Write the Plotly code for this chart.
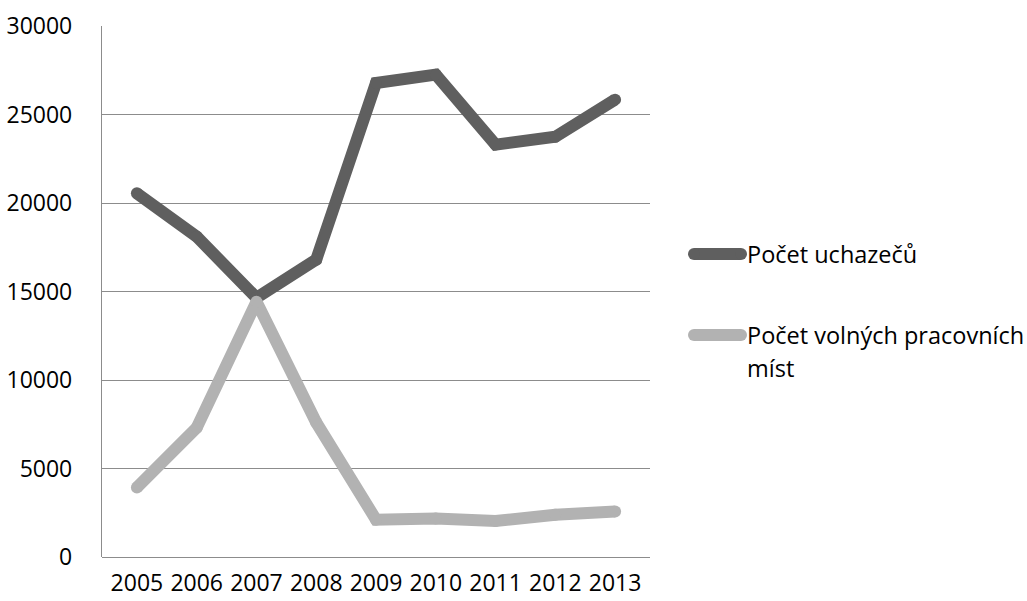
import plotly.graph_objects as go

# Years on the category axis
years = ["2005", "2006", "2007", "2008", "2009", "2010", "2011", "2012", "2013"]

# Number of job seekers
uchazeci = [20550, 18100, 14650, 16800, 26780, 27250, 23300, 23740, 25840]

# Number of vacancies
volna_mista = [3930, 7300, 14420, 7600, 2110, 2180, 2030, 2390, 2570]

series_names = ["Počet uchazečů", "Počet volných pracovních míst"]
legend_lines = [["Počet uchazečů"], ["Počet volných pracovních", "míst"]]

y_ticks = [0, 5000, 10000, 15000, 20000, 25000, 30000]

DARK = "#5f5f5f"
LIGHT = "#b2b2b2"
GRID = "#8c8c8c"
FONT = "Open Sans"
FS_TICK = 23
FS_LEG = 23.5
LW = 12

fig = go.Figure()
for name, vals, col in [(series_names[0], uchazeci, DARK),
                        (series_names[1], volna_mista, LIGHT)]:
    fig.add_trace(go.Scatter(
        x=years, y=vals, name=name, mode="lines+markers",
        line=dict(color=col, width=LW),
        marker=dict(color=col, size=LW, line=dict(width=0)),
        showlegend=False, hoverinfo="skip",
    ))

# Hand-built legend on the right: thick rounded sample line + label
L = 102
W = 548
T = 26
H = 531


def px_x(px):
    return (px - L) / W


def px_y(py):
    return (T + H - py) / H


shapes = []
annotations = []
entries = [(DARK, 254, legend_lines[0]), (LIGHT, 335, legend_lines[1])]
x0, x1 = px_x(694), px_x(741)
for col, ypix, lines in entries:
    yy = px_y(ypix)
    shapes.append(dict(type="line", xref="paper", yref="paper",
                       x0=x0, x1=x1, y0=yy, y1=yy,
                       line=dict(color=col, width=LW)))
    for xc in (x0, x1):
        shapes.append(dict(type="circle", xref="paper", yref="paper",
                           xsizemode="pixel", ysizemode="pixel",
                           xanchor=xc, yanchor=yy,
                           x0=-LW / 2, x1=LW / 2, y0=-LW / 2, y1=LW / 2,
                           fillcolor=col, line=dict(width=0)))
    for i, txt in enumerate(lines):
        annotations.append(dict(
            text=txt, xref="paper", yref="paper",
            x=px_x(745), y=px_y(ypix + 33 * i),
            xanchor="left", yanchor="middle", showarrow=False,
            font=dict(family=FONT, size=FS_LEG, color="#000000"),
        ))

fig.update_layout(
    width=1027, height=601,
    margin=dict(l=L, r=1027 - L - W, t=T, b=601 - T - H),
    paper_bgcolor="white", plot_bgcolor="white",
    font=dict(family=FONT, size=FS_TICK, color="#000000"),
    shapes=shapes, annotations=annotations,
    showlegend=False,
)
fig.update_xaxes(
    type="category", showgrid=False, zeroline=False, automargin=False,
    showline=False, ticks="", ticklabelstandoff=10,
    tickfont=dict(family=FONT, size=FS_TICK, color="#000000"),
)
fig.update_yaxes(
    range=[0, 30000], tickvals=y_ticks, ticktext=[str(v) for v in y_ticks],
    automargin=False,
    showgrid=True, gridcolor=GRID, gridwidth=1.3,
    zeroline=True, zerolinecolor=GRID, zerolinewidth=1.3,
    showline=True, linecolor=GRID, linewidth=1.3,
    ticks="", ticklabelstandoff=24,
    tickfont=dict(family=FONT, size=FS_TICK, color="#000000"),
)

fig.write_html("out.html")
